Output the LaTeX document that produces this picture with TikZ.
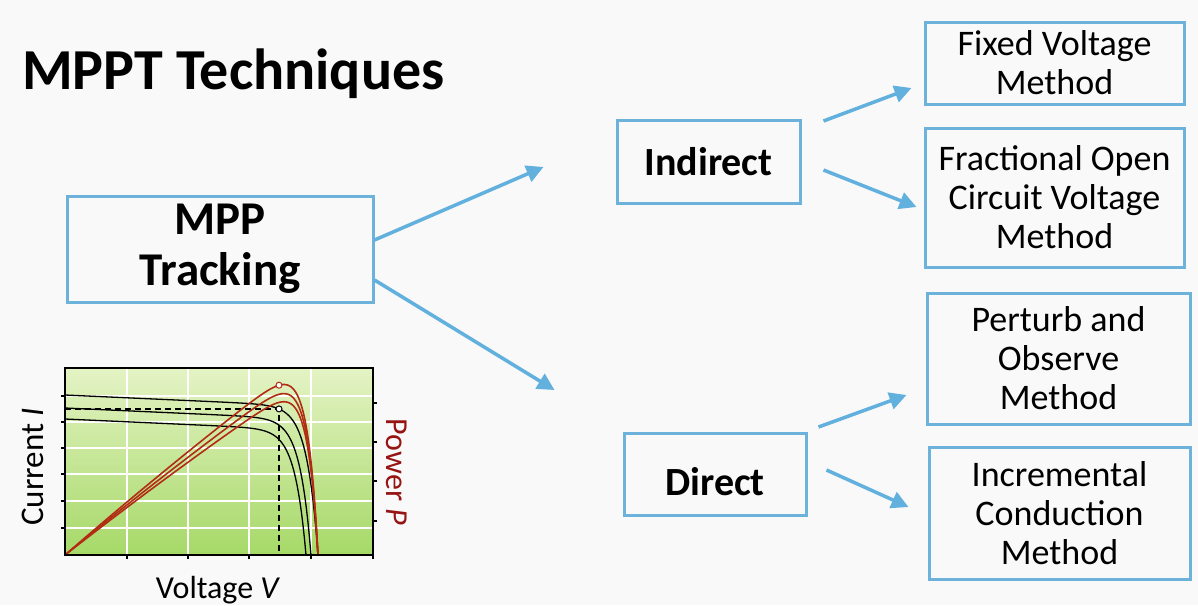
\documentclass[tikz,border=0pt]{standalone}
\usepackage{fontspec}
\setmainfont{Carlito}
\usetikzlibrary{arrows.meta}
\definecolor{bgc}{RGB}{249,249,249}
\definecolor{boxblue}{RGB}{108,178,218}
\definecolor{arrblue}{RGB}{98,176,222}
\definecolor{pred}{RGB}{178,44,20}
\definecolor{plabel}{RGB}{150,20,20}
\definecolor{gtop}{RGB}{228,243,196}
\definecolor{gbot}{RGB}{166,217,104}
\tikzset{
  box/.style={draw=boxblue, line width=3pt, inner sep=0pt, align=center, fill=none},
  bigbox/.style={box, font=\bfseries\fontsize{47}{51}\selectfont},
  midbox/.style={box, font=\bfseries\fontsize{40}{44}\selectfont},
  methodbox/.style={box, font=\fontsize{36}{39}\selectfont},
  conn/.style={draw=arrblue, line width=3.5pt, -{Triangle[length=17pt,width=17pt]}},
  gridline/.style={white, line width=2pt},
  tick/.style={black, line width=1.4pt},
  ivcurve/.style={black, line width=1.3pt},
  pvcurve/.style={pred, line width=1.6pt},
}
\begin{document}
\begin{tikzpicture}[x=1pt, y=-1pt,
  declare function={
    Itop(\x)=(160-0.045*\x)*(1-exp((\x-253)/11));
    Imid(\x)=(147-0.045*\x)*(1-exp((\x-246)/11));
    Ibot(\x)=(136-0.045*\x)*(1-exp((\x-241)/11));
  }]
\fill[bgc] (0,0) rectangle (1198,605);
\useasboundingbox (0,0) rectangle (1198,605);

% title
\node[anchor=base west, inner sep=0pt, font=\bfseries\fontsize{58}{62}\selectfont] (title) at (22,89) {MPPT Techniques};

% boxes
\node[bigbox, minimum width=306pt, minimum height=106pt] (mpp) at (220,249) {MPP\\Tracking};
\node[midbox, minimum width=183pt, minimum height=83pt] (indirect) at (708.5,161.5) {Indirect};
\node[midbox, minimum width=182pt, minimum height=82pt] (direct) at (715,474) {\raisebox{-21pt}[0pt][0pt]{Direct}};
\node[methodbox, minimum width=259pt, minimum height=82pt] (fixed) at (1054.5,63) {Fixed Voltage\\Method};
\node[methodbox, minimum width=259pt, minimum height=139pt] (frac) at (1054.5,197.5) {Fractional Open\\Circuit Voltage\\Method};
\node[methodbox, minimum width=263pt, minimum height=131pt] (pno) at (1058.5,358.5) {Perturb and\\Observe\\Method};
\node[methodbox, minimum width=261pt, minimum height=132pt] (inc) at (1059.5,513) {Incremental\\Conduction\\Method};

% connectors
\draw[conn] ([yshift=9pt]mpp.east) -- ([xshift=-72pt,yshift=-5.5pt]indirect.west);
\draw[conn] ([yshift=-31pt]mpp.east) -- ([xshift=-68pt,yshift=84pt]direct.west);
\draw[conn] ([xshift=22pt,yshift=40.5pt]indirect.east) -- ([xshift=-12pt,yshift=-25pt]fixed.west);
\draw[conn] ([xshift=22pt,yshift=-8.5pt]indirect.east) -- ([xshift=-7pt,yshift=-9.5pt]frac.west);
\draw[conn] ([xshift=11pt,yshift=47pt]direct.east) -- ([xshift=-19pt,yshift=-36.5pt]pno.west);
\draw[conn] ([xshift=19pt,yshift=4pt]direct.east) -- ([xshift=-19pt,yshift=6pt]inc.west);

% I-V / P-V chart
\begin{scope}[shift={(65pt,-555pt)}, x=1pt, y=1pt]
  \shade[top color=gtop, bottom color=gbot] (0,0) rectangle (308,187);
  \foreach \gx in {62,123,184,246} \draw[gridline] (\gx,0) -- (\gx,187);
  \foreach \gy in {27,54,81,107,133,159} \draw[gridline] (0,\gy) -- (308,\gy);
  \begin{scope}
    \clip (0,0) rectangle (308,187);
    \draw[ivcurve] plot[domain=0:241, samples=160] (\x,{Ibot(\x)});
    \draw[ivcurve] plot[domain=0:246, samples=160] (\x,{Imid(\x)});
    \draw[ivcurve] plot[domain=0:253, samples=160] (\x,{Itop(\x)});
    \draw[black, line width=1.3pt, dash pattern=on 6pt off 4pt] (0,146.1) -- (214,146.1) -- (214,0);
    \draw[pvcurve] plot[domain=0:253, samples=160] (\x,{0.00489*\x*Itop(\x)});
    \draw[pvcurve] plot[domain=0:253, samples=160] (\x,{0.00514*\x*Itop(\x)});
    \draw[pvcurve] plot[domain=0:253, samples=160] (\x,{0.00543*\x*Itop(\x)});
  \end{scope}
  \draw[pred, fill=white, line width=1pt] (214,169.8) circle (3pt);
  \draw[black, fill=white, line width=1pt] (214,146.1) circle (3pt);
  \draw[black, line width=1.5pt] (0,0) rectangle (308,187);
  \foreach \ty in {27,54,81,107,133,159} \draw[tick] (0,\ty) -- (-4,\ty);
  \foreach \ty in {34,74,113,152} \draw[tick] (308,\ty) -- (312,\ty);
  \foreach \tx in {62,123,184,246,308} \draw[tick] (\tx,0) -- (\tx,-4);
  \node[rotate=90, font=\fontsize{33}{36}\selectfont] (ilabel) at (-32,88) {Current \textit{I}};
  \node[rotate=-90, text=plabel, font=\fontsize{32}{35}\selectfont] (plabel) at (332,83) {Power \textit{P}};
  \node[font=\fontsize{32}{35}\selectfont] (vlabel) at (153,-35) {Voltage \textit{V}};
\end{scope}
\end{tikzpicture}
\end{document}
